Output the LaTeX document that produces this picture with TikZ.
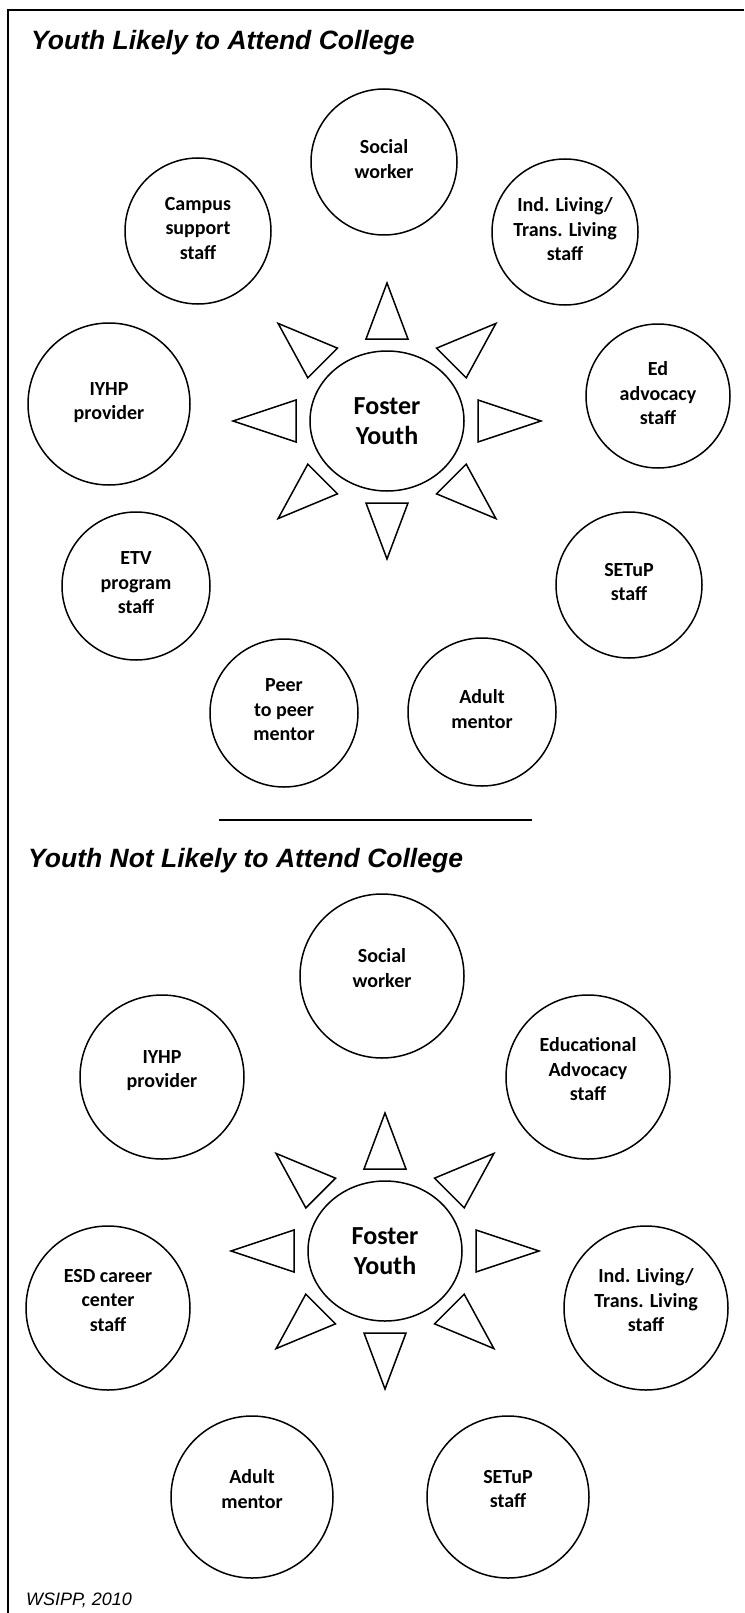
\documentclass[tikz,border=0pt]{standalone}
\usepackage{fontspec}
\setmainfont{Carlito}
\newfontfamily\headfont{Liberation Sans}
\usetikzlibrary{shapes.geometric, positioning}

\begin{document}
\begin{tikzpicture}[
    x=1pt, y=-1pt,
    bubble/.style={circle, draw, line width=1.5pt, inner sep=0pt, minimum size=#1, align=center, text depth=6pt, font=\fontsize{20}{24.5}\selectfont\bfseries},
    bubble/.default=146pt,
    raised/.style={text depth=16pt},
    hub/.style={ellipse, draw, line width=1.5pt, minimum width=154pt, minimum height=140pt, inner sep=0pt, align=center, font=\fontsize{26}{30}\selectfont\bfseries},
    ray/.style={draw, line width=1.5pt, line join=miter},
    heading/.style={anchor=base west, inner sep=0pt, font=\headfont\fontsize{26.5}{30}\selectfont\bfseries\itshape}
]
    \useasboundingbox (0,0) rectangle (744,1613);
    \draw[line width=2pt] (744,10) -- (8,10) -- (8,1613);

    % likely to attend college
    \node[heading] (titleA) at (31,50) {Youth Likely to Attend College};
    \node[hub] (hubA) at (387,421) {Foster\\Youth};
    \node[bubble] (socialA) at (384,162) {Social\\worker};
    \node[bubble] (campus) at (198,231) {Campus\\support\\staff};
    \node[bubble] (livingA) at (565,232) {Ind. Living/\\Trans. Living\\staff};
    \node[bubble=162pt] (iyhpA) at (109,404) {IYHP\\provider};
    \node[bubble=144pt] (edstaff) at (658,396) {Ed\\advocacy\\staff};
    \node[bubble=148pt] (etv) at (136,586) {ETV\\program\\staff};
    \node[bubble] (setupA) at (629,585) {SETuP\\staff};
    \node[bubble=148pt] (peer) at (284,713) {Peer\\to peer\\mentor};
    \node[bubble=148pt] (mentorA) at (482,712) {Adult\\mentor};

    \draw[line width=2pt] (219,820) -- (532,820);

    % not likely to attend college
    \node[heading] (titleB) at (28,867) {Youth Not Likely to Attend College};
    \node[hub] (hubB) at (385,1251) {Foster\\Youth};
    \node[bubble=164pt, raised] (socialB) at (382,976) {Social\\worker};
    \node[bubble=164pt, raised] (iyhpB) at (162,1077) {IYHP\\provider};
    \node[bubble=164pt, raised] (edadvocacy) at (588,1077) {Educational\\Advocacy\\staff};
    \node[bubble=164pt, raised] (esd) at (108,1308) {ESD career\\center\\staff};
    \node[bubble=164pt, raised] (livingB) at (646,1308) {Ind. Living/\\Trans. Living\\staff};
    \node[bubble=162pt, raised] (mentorB) at (252,1497) {Adult\\mentor};
    \node[bubble=162pt, raised] (setupB) at (508,1497) {SETuP\\staff};

    \foreach \h in {hubA,hubB}
      \foreach \a in {0,45,...,315}
        \draw[ray] ([shift={({91*cos(\a)-21*sin(\a)},{82*sin(\a)+21*cos(\a)})}]\h.center)
          -- ([shift={({154*cos(\a)},{138*sin(\a)})}]\h.center)
          -- ([shift={({91*cos(\a)+21*sin(\a)},{82*sin(\a)-21*cos(\a)})}]\h.center) -- cycle;

    \node[anchor=base west, inner sep=0pt, font=\headfont\fontsize{18}{20}\selectfont\itshape] (source) at (26,1605) {WSIPP, 2010};
\end{tikzpicture}
\end{document}
